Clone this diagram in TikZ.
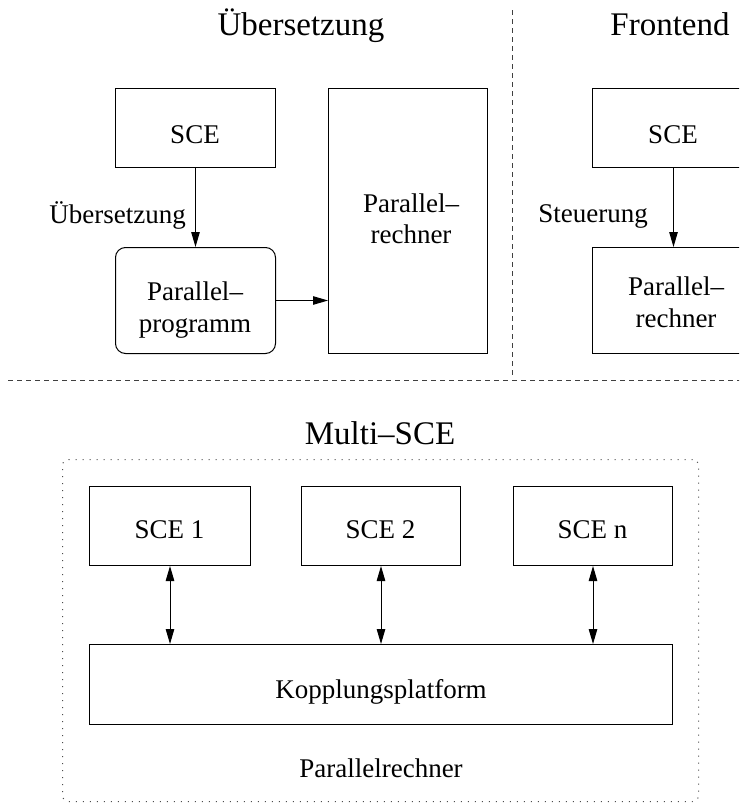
\documentclass[tikz,border=0pt]{standalone}
\usepackage{fontspec}
\setmainfont{Liberation Serif}
\usetikzlibrary{arrows.meta}
\begin{document}
\begin{tikzpicture}[x=1pt,y=-1pt,
  frame/.style={draw, line width=1pt, rectangle, inner sep=0pt, anchor=north west},
  txt/.style={inner sep=0pt, anchor=base, font=\fontsize{27}{32}\selectfont},
  lbl/.style={inner sep=0pt, anchor=base east, font=\fontsize{27}{32}\selectfont},
  title/.style={inner sep=0pt, anchor=base, font=\fontsize{33}{40}\selectfont},
  tip/.tip={Triangle[length=15pt, width=8.5pt]},
  arr/.style={line width=1pt, -tip},
  dbl/.style={line width=1pt, tip-tip},
  sep/.style={draw=black!75, line width=0.9pt, dash pattern=on 5pt off 4pt},
  dots/.style={draw=black!70, line width=1pt, dash pattern=on 1pt off 6pt, rounded corners=6pt}]
  \useasboundingbox (0,0) rectangle (739,803);
  \clip (0,0) rectangle (739,803);

  % separators between the three panels
  \coordinate (vtop) at (512,10);
  \coordinate (vbot) at (512,375);
  \coordinate (hl) at (8,380);
  \coordinate (hr) at (745,380);
  \draw[sep] (vtop) -- (vbot);
  \draw[sep] (hl) -- (hr);

  % panel: Übersetzung
  \node[title] (t1) at (301,35) {Übersetzung};
  \node[frame, minimum width=160pt, minimum height=79pt] (sce) at (115,88) {};
  \node[txt] (sceT) at (195,143) {SCE};
  \node[frame, rounded corners=10pt, minimum width=160pt, minimum height=106pt] (prog) at (115,247) {};
  \node[txt] (progA) at (195,300) {Parallel–};
  \node[txt] (progB) at (195,332) {programm};
  \node[frame, minimum width=159pt, minimum height=265pt] (pr) at (328,88) {};
  \node[txt] (prA) at (411,212) {Parallel–};
  \node[txt] (prB) at (411,243) {rechner};
  \draw[arr] (sce.south) -- (prog.north);
  \node[lbl] (ueb) at (186,223) {Übersetzung};
  \draw[arr] (prog.east) -- (prog.east -| pr.west);

  % panel: Frontend
  \node[title] (t2) at (670,35) {Frontend};
  \node[frame, minimum width=162pt, minimum height=79pt] (fsce) at (592,88) {};
  \node[txt] (fsceT) at (673,143) {SCE};
  \node[frame, minimum width=162pt, minimum height=106pt] (fpr) at (592,247) {};
  \node[txt] (fprA) at (676,295) {Parallel–};
  \node[txt] (fprB) at (676,327) {rechner};
  \draw[arr] (fsce.south) -- (fpr.north);
  \node[lbl] (steu) at (648,222) {Steuerung};

  % panel: Multi-SCE
  \node[title] (t3) at (380,444) {Multi–SCE};
  \node[frame, dots, minimum width=636pt, minimum height=342pt] (host) at (62,459) {};
  \node[frame, minimum width=161pt, minimum height=79pt] (s1) at (89,486) {};
  \node[txt] (s1T) at (169.5,538) {SCE 1};
  \node[frame, minimum width=159pt, minimum height=79pt] (s2) at (301,486) {};
  \node[txt] (s2T) at (380.5,538) {SCE 2};
  \node[frame, minimum width=159pt, minimum height=79pt] (sn) at (513,486) {};
  \node[txt] (snT) at (592.5,538) {SCE n};
  \node[frame, minimum width=583pt, minimum height=80pt] (kop) at (89,644) {};
  \node[txt] (kopT) at (381,698) {Kopplungsplatform};
  \node[txt] (hostT) at (381,777) {Parallelrechner};
  \draw[dbl] (s1.south) -- (s1.south |- kop.north);
  \draw[dbl] (s2.south) -- (s2.south |- kop.north);
  \draw[dbl] (sn.south) -- (sn.south |- kop.north);
\end{tikzpicture}
\end{document}
